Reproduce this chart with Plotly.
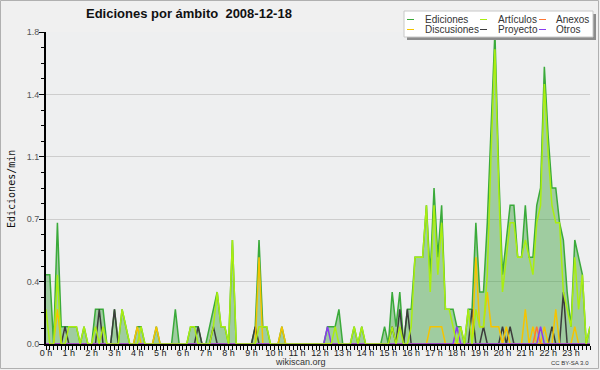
import plotly.graph_objects as go

# ---- data: 10-minute bins, edits per minute, 2008-12-18 ----
bins_per_hour = 6
ediciones = [
    0.4, 0.4, 0.0, 0.7, 0.1, 0.1, 0.1, 0.1, 0.1, 0.0, 0.1, 0.0,   # 0h-1h
    0.0, 0.2, 0.2, 0.2, 0.0, 0.0, 0.2, 0.0, 0.2, 0.1, 0.0, 0.0,   # 2h-3h
    0.1, 0.1, 0.0, 0.0, 0.0, 0.1, 0.0, 0.0, 0.0, 0.0, 0.2, 0.0,   # 4h-5h
    0.0, 0.0, 0.1, 0.1, 0.1, 0.0, 0.0, 0.1, 0.2, 0.3, 0.1, 0.1,   # 6h-7h
    0.0, 0.6, 0.0, 0.0, 0.0, 0.0, 0.0, 0.1, 0.6, 0.1, 0.1, 0.0,   # 8h-9h
    0.0, 0.0, 0.1, 0.0, 0.0, 0.0, 0.0, 0.0, 0.0, 0.0, 0.0, 0.0,   # 10h-11h
    0.0, 0.0, 0.1, 0.1, 0.1, 0.2, 0.0, 0.0, 0.0, 0.1, 0.0, 0.1,   # 12h-13h
    0.0, 0.0, 0.0, 0.0, 0.0, 0.1, 0.0, 0.3, 0.1, 0.3, 0.0, 0.2,   # 14h-15h
    0.2, 0.5, 0.5, 0.5, 0.8, 0.4, 0.9, 0.5, 0.8, 0.2, 0.2, 0.2,   # 16h-17h
    0.1, 0.1, 0.0, 0.2, 0.2, 0.7, 0.3, 0.3, 0.7, 1.2, 1.8, 1.0,   # 18h-19h
    0.4, 0.6, 0.8, 0.8, 0.5, 0.5, 0.8, 0.5, 0.5, 0.8, 0.9, 1.6,   # 20h-21h
    1.2, 0.9, 0.9, 0.7, 0.6, 0.3, 0.1, 0.6, 0.5, 0.4, 0.0, 0.1,   # 22h-23h
]
articulos = [
    0.2, 0.0, 0.0, 0.4, 0.0, 0.0, 0.1, 0.1, 0.1, 0.0, 0.1, 0.0,
    0.0, 0.1, 0.0, 0.1, 0.0, 0.0, 0.0, 0.0, 0.2, 0.1, 0.0, 0.0,
    0.0, 0.1, 0.0, 0.0, 0.0, 0.0, 0.0, 0.0, 0.0, 0.0, 0.0, 0.0,
    0.0, 0.0, 0.1, 0.1, 0.0, 0.0, 0.0, 0.0, 0.1, 0.3, 0.1, 0.1,
    0.0, 0.6, 0.0, 0.0, 0.0, 0.0, 0.0, 0.0, 0.1, 0.1, 0.1, 0.0,
    0.0, 0.0, 0.0, 0.0, 0.0, 0.0, 0.0, 0.0, 0.0, 0.0, 0.0, 0.0,
    0.0, 0.0, 0.0, 0.0, 0.1, 0.0, 0.0, 0.0, 0.0, 0.1, 0.0, 0.1,
    0.0, 0.0, 0.0, 0.0, 0.0, 0.0, 0.0, 0.1, 0.0, 0.1, 0.0, 0.0,
    0.1, 0.5, 0.5, 0.5, 0.8, 0.3, 0.8, 0.4, 0.7, 0.2, 0.2, 0.1,
    0.0, 0.1, 0.0, 0.2, 0.0, 0.2, 0.1, 0.1, 0.4, 1.1, 1.7, 0.9,
    0.3, 0.5, 0.7, 0.7, 0.5, 0.5, 0.6, 0.5, 0.4, 0.7, 0.8, 1.5,
    1.1, 0.8, 0.7, 0.7, 0.3, 0.2, 0.1, 0.5, 0.2, 0.4, 0.0, 0.1,
]
discusiones = [
    0.0, 0.0, 0.0, 0.2, 0.0, 0.0, 0.0, 0.0, 0.0, 0.0, 0.0, 0.0,
    0.0, 0.0, 0.0, 0.0, 0.0, 0.0, 0.0, 0.0, 0.0, 0.0, 0.0, 0.0,
    0.1, 0.0, 0.0, 0.0, 0.0, 0.1, 0.0, 0.0, 0.0, 0.0, 0.0, 0.0,
    0.0, 0.0, 0.0, 0.0, 0.0, 0.0, 0.0, 0.0, 0.0, 0.0, 0.0, 0.0,
    0.0, 0.0, 0.0, 0.0, 0.0, 0.0, 0.0, 0.0, 0.5, 0.0, 0.0, 0.0,
    0.0, 0.0, 0.1, 0.0, 0.0, 0.0, 0.0, 0.0, 0.0, 0.0, 0.0, 0.0,
    0.0, 0.0, 0.0, 0.0, 0.0, 0.0, 0.0, 0.0, 0.0, 0.0, 0.0, 0.0,
    0.0, 0.0, 0.0, 0.0, 0.0, 0.0, 0.0, 0.0, 0.0, 0.0, 0.0, 0.0,
    0.0, 0.0, 0.0, 0.0, 0.0, 0.1, 0.1, 0.1, 0.1, 0.0, 0.0, 0.0,
    0.0, 0.0, 0.0, 0.0, 0.0, 0.5, 0.1, 0.1, 0.3, 0.1, 0.1, 0.1,
    0.0, 0.1, 0.0, 0.0, 0.0, 0.0, 0.2, 0.0, 0.1, 0.0, 0.0, 0.1,
    0.0, 0.0, 0.2, 0.0, 0.0, 0.0, 0.0, 0.1, 0.0, 0.0, 0.0, 0.0,
]
proyecto = [
    0.0, 0.0, 0.0, 0.0, 0.0, 0.1, 0.0, 0.0, 0.0, 0.0, 0.0, 0.0,
    0.0, 0.0, 0.2, 0.0, 0.0, 0.0, 0.2, 0.0, 0.0, 0.0, 0.0, 0.0,
    0.0, 0.0, 0.0, 0.0, 0.0, 0.0, 0.0, 0.0, 0.0, 0.0, 0.0, 0.0,
    0.0, 0.0, 0.0, 0.0, 0.1, 0.0, 0.0, 0.0, 0.1, 0.0, 0.0, 0.0,
    0.0, 0.0, 0.0, 0.0, 0.0, 0.0, 0.0, 0.1, 0.0, 0.0, 0.0, 0.0,
    0.0, 0.0, 0.0, 0.0, 0.0, 0.0, 0.0, 0.0, 0.0, 0.0, 0.0, 0.0,
    0.0, 0.0, 0.0, 0.0, 0.0, 0.0, 0.0, 0.0, 0.0, 0.0, 0.0, 0.0,
    0.0, 0.0, 0.0, 0.0, 0.0, 0.0, 0.0, 0.1, 0.0, 0.2, 0.0, 0.2,
    0.0, 0.0, 0.0, 0.0, 0.0, 0.0, 0.0, 0.0, 0.0, 0.0, 0.0, 0.0,
    0.0, 0.0, 0.0, 0.0, 0.2, 0.0, 0.0, 0.1, 0.0, 0.0, 0.0, 0.0,
    0.1, 0.0, 0.1, 0.0, 0.0, 0.0, 0.0, 0.0, 0.0, 0.0, 0.0, 0.0,
    0.0, 0.1, 0.0, 0.0, 0.3, 0.0, 0.0, 0.0, 0.0, 0.0, 0.0, 0.0,
]
anexos_nonzero = {129: 0.1}
otros_nonzero = {74: 0.1, 108: 0.1, 130: 0.1}

n_bins = len(ediciones)
hours = [i / bins_per_hour for i in range(n_bins)]
anexos = [anexos_nonzero.get(i, 0.0) for i in range(n_bins)]
otros = [otros_nonzero.get(i, 0.0) for i in range(n_bins)]

colors = {
    "Ediciones": "#3aaa3a",
    "Artículos": "#aaee11",
    "Anexos": "#ff7733",
    "Discusiones": "#f5c400",
    "Proyecto": "#3c3c3c",
    "Otros": "#8a3cf0",
}
values = {
    "Ediciones": ediciones, "Artículos": articulos, "Anexos": anexos,
    "Discusiones": discusiones, "Proyecto": proyecto, "Otros": otros,
}

# ---- layout geometry (pixels) ----
W, H = 600, 370
ML, MR, MT, MB = 46, 10, 32, 26
PW, PH = W - ML - MR, H - MT - MB


def px(x):
    return (x - ML) / PW


def py(y):
    return (H - MB - y) / PH


fig = go.Figure()

fig.add_trace(go.Scatter(
    x=hours, y=ediciones, name="Ediciones", mode="lines",
    line=dict(color=colors["Ediciones"], width=1.5),
    fill="tozeroy", fillcolor="rgba(70,165,70,0.47)",
))
for name in ["Proyecto", "Discusiones", "Anexos", "Otros", "Artículos"]:
    fig.add_trace(go.Scatter(
        x=hours, y=values[name], name=name, mode="lines",
        line=dict(color=colors[name], width=1.5),
    ))

fig.update_layout(
    width=W, height=H, autosize=False,
    margin=dict(l=ML, r=MR, t=MT, b=MB, pad=0, autoexpand=False),
    paper_bgcolor="#f0f0f0", plot_bgcolor="#eeeff0",
    showlegend=False,
    font=dict(family="Liberation Sans", size=9, color="#222"),
)
fig.update_xaxes(
    range=[0, (n_bins - 1) / bins_per_hour], automargin=False,
    tickmode="linear", tick0=0, dtick=1, ticksuffix=" h",
    ticks="outside", ticklen=4, tickwidth=1, tickcolor="black",
    minor=dict(dtick=1 / bins_per_hour, ticks="outside", ticklen=4, tickcolor="black", showgrid=False),
    showline=True, linecolor="black", linewidth=2,
    showgrid=False, zeroline=False, ticklabelstandoff=-5,
    tickfont=dict(family="Liberation Sans", size=9, color="#222"),
)
fig.update_yaxes(
    range=[0, 1.8], automargin=False,
    tickmode="linear", tick0=0, dtick=0.36, tickformat=".1f",
    ticks="outside", ticklen=5, tickwidth=1, tickcolor="black",
    minor=dict(dtick=0.09, ticks="outside", ticklen=3, tickcolor="black", showgrid=False),
    showline=True, linecolor="black", linewidth=2,
    showgrid=True, gridcolor="#cdcdcd", gridwidth=1, zeroline=False,
    ticklabelstandoff=-2,
    tickfont=dict(family="Liberation Sans", size=9, color="#555"),
)

shapes = []
annotations = []

# outer frame
shapes.append(dict(type="rect", xref="paper", yref="paper",
                   x0=px(0.5), x1=px(598.5), y0=py(368.5), y1=py(0.5),
                   line=dict(color="#b0b0b0", width=1), fillcolor="rgba(0,0,0,0)", layer="below"))

# legend box (shadow + box)
shapes.append(dict(type="rect", xref="paper", yref="paper",
                   x0=px(407), x1=px(596), y0=py(40), y1=py(14),
                   line=dict(width=0), fillcolor="#8c8c8c", layer="above"))
shapes.append(dict(type="rect", xref="paper", yref="paper",
                   x0=px(404), x1=px(593), y0=py(37), y1=py(11),
                   line=dict(color="#c8c8c8", width=1), fillcolor="white", layer="above"))

legend_layout = [
    ("Ediciones", 407, 424, 19.5), ("Artículos", 480, 497, 19.5), ("Anexos", 539, 555, 19.5),
    ("Discusiones", 407, 424, 29.5), ("Proyecto", 480, 497, 29.5), ("Otros", 539, 555, 29.5),
]
for name, lx, tx, ly in legend_layout:
    shapes.append(dict(type="line", xref="paper", yref="paper",
                       x0=px(lx), x1=px(lx + 7), y0=py(ly), y1=py(ly),
                       line=dict(color=colors[name], width=1), layer="above"))
    annotations.append(dict(text=name, xref="paper", yref="paper", x=px(tx - 1), y=py(ly),
                            xanchor="left", yanchor="middle", showarrow=False,
                            font=dict(family="Liberation Sans", size=10, color="#333")))

# title
annotations.append(dict(text="<b>Ediciones por ámbito\u00a0 2008-12-18</b>",
                        xref="paper", yref="paper", x=px(84), y=py(14),
                        xanchor="left", yanchor="middle", showarrow=False,
                        font=dict(family="Liberation Sans", size=13, color="#111")))
# y-axis title
annotations.append(dict(text="Ediciones/min", xref="paper", yref="paper",
                        x=px(11), y=py(189), textangle=-90,
                        xanchor="center", yanchor="middle", showarrow=False,
                        font=dict(family="DejaVu Sans Mono", size=10, color="#111")))
# footer texts
annotations.append(dict(text="wikiscan.org", xref="paper", yref="paper",
                        x=px(300), y=py(362), xanchor="center", yanchor="middle",
                        showarrow=False, font=dict(family="Liberation Sans", size=9, color="#333")))
annotations.append(dict(text="CC BY-SA 3.0", xref="paper", yref="paper",
                        x=px(570), y=py(363), xanchor="center", yanchor="middle",
                        showarrow=False, font=dict(family="Liberation Sans", size=6, color="#333")))

fig.update_layout(shapes=shapes, annotations=annotations)
fig.write_html("out.html", config={"displayModeBar": False},
               post_script="document.body.style.margin='0';document.body.style.overflow='hidden';")
